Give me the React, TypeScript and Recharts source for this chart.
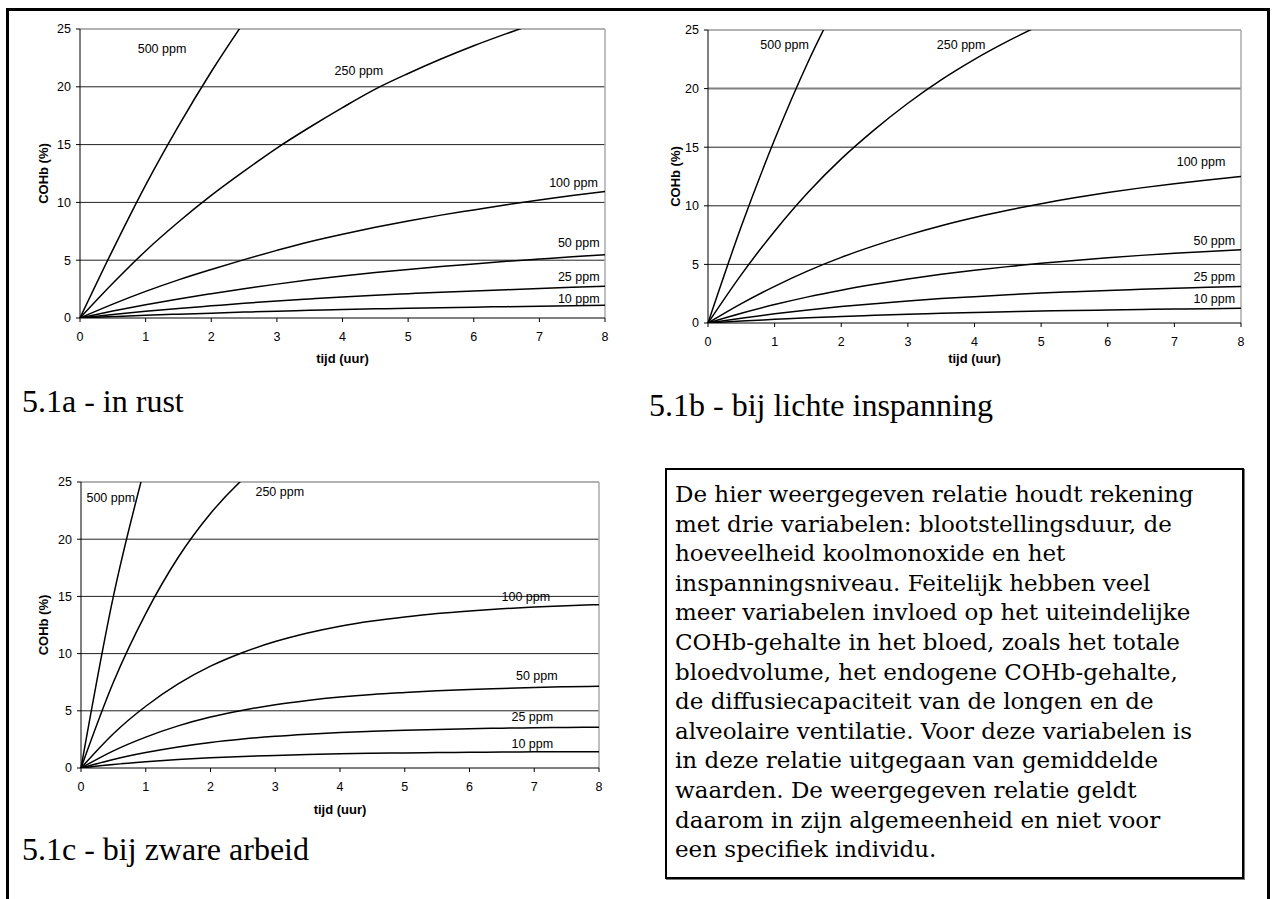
import { LineChart, Line, XAxis, YAxis, ReferenceLine, ReferenceDot, Label } from 'recharts'

// time axis (hours), one point every half hour
const TIME = [0, 0.5, 1, 1.5, 2, 2.5, 3, 3.5, 4, 4.5, 5, 5.5, 6, 6.5, 7, 7.5, 8]
const X_TICKS = [0, 1, 2, 3, 4, 5, 6, 7, 8]
const Y_TICKS = [0, 5, 10, 15, 20, 25]
const GRID_Y = [5, 10, 15, 20]

// 5.1a - in rust (COHb %)
const REST_500 = [0, 5.9, 11.5, 16.6, 21.3, 25.6, 29.6, null, null, null, null, null, null, null, null, null, null]
const REST_250 = [0, 3.0, 5.8, 8.3, 10.6, 12.7, 14.7, 16.5, 18.2, 19.8, 21.15, 22.4, 23.55, 24.6, 25.6, 26.55, 27.4]
const REST_100 = [0, 1.2, 2.3, 3.3, 4.2, 5.05, 5.85, 6.6, 7.25, 7.85, 8.4, 8.9, 9.35, 9.8, 10.2, 10.6, 10.95]
const REST_50 = [0, 0.6, 1.15, 1.65, 2.1, 2.53, 2.93, 3.3, 3.63, 3.93, 4.2, 4.45, 4.68, 4.9, 5.1, 5.3, 5.48]
const REST_25 = [0, 0.3, 0.58, 0.83, 1.05, 1.27, 1.47, 1.65, 1.82, 1.97, 2.1, 2.23, 2.34, 2.45, 2.55, 2.65, 2.74]
const REST_10 = [0, 0.12, 0.23, 0.33, 0.42, 0.51, 0.59, 0.66, 0.73, 0.79, 0.84, 0.89, 0.94, 0.98, 1.02, 1.06, 1.1]

// 5.1b - bij lichte inspanning
const LIGHT_500 = [0, 8.25, 15.65, 22.25, 28.0, null, null, null, null, null, null, null, null, null, null, null, null]
const LIGHT_250 = [0, 4.13, 7.83, 11.13, 14.0, 16.5, 18.75, 20.75, 22.5, 24.05, 25.45, null, null, null, null, null, null]
const LIGHT_100 = [0, 1.65, 3.13, 4.45, 5.6, 6.6, 7.5, 8.3, 9.0, 9.62, 10.18, 10.68, 11.13, 11.53, 11.89, 12.21, 12.5]
const LIGHT_50 = [0, 0.83, 1.57, 2.23, 2.8, 3.3, 3.75, 4.15, 4.5, 4.81, 5.09, 5.34, 5.57, 5.77, 5.95, 6.11, 6.25]
const LIGHT_25 = [0, 0.41, 0.78, 1.11, 1.4, 1.65, 1.88, 2.08, 2.25, 2.41, 2.55, 2.67, 2.78, 2.88, 2.97, 3.05, 3.12]
const LIGHT_10 = [0, 0.17, 0.31, 0.45, 0.56, 0.66, 0.75, 0.83, 0.9, 0.96, 1.02, 1.07, 1.11, 1.15, 1.19, 1.22, 1.25]

// 5.1c - bij zware arbeid
const HEAVY_500 = [0, 15.0, 26.6, null, null, null, null, null, null, null, null, null, null, null, null, null, null]
const HEAVY_250 = [0, 7.5, 13.5, 18.4, 22.25, 25.25, 27.6, null, null, null, null, null, null, null, null, null, null]
const HEAVY_100 = [0, 3.0, 5.4, 7.35, 8.9, 10.1, 11.05, 11.8, 12.4, 12.85, 13.2, 13.5, 13.73, 13.92, 14.07, 14.19, 14.28]
const HEAVY_50 = [0, 1.5, 2.7, 3.68, 4.45, 5.05, 5.53, 5.9, 6.2, 6.43, 6.6, 6.75, 6.87, 6.96, 7.04, 7.1, 7.14]
const HEAVY_25 = [0, 0.75, 1.35, 1.84, 2.23, 2.53, 2.77, 2.95, 3.1, 3.21, 3.3, 3.37, 3.43, 3.48, 3.52, 3.55, 3.57]
const HEAVY_10 = [0, 0.3, 0.54, 0.74, 0.89, 1.01, 1.1, 1.18, 1.24, 1.29, 1.32, 1.35, 1.37, 1.39, 1.41, 1.42, 1.43]

const KEYS = ['p500', 'p250', 'p100', 'p50', 'p25', 'p10']

// curve labels, in data units (x = uur, y = COHb %)
const REST_LABELS = [
  { x: 1.25, y: 23.3, text: '500 ppm' },
  { x: 4.25, y: 21.4, text: '250 ppm' },
  { x: 7.52, y: 11.7, text: '100 ppm' },
  { x: 7.6, y: 6.55, text: '50 ppm' },
  { x: 7.6, y: 3.55, text: '25 ppm' },
  { x: 7.6, y: 1.7, text: '10 ppm' },
]
const LIGHT_LABELS = [
  { x: 1.15, y: 23.8, text: '500 ppm' },
  { x: 3.8, y: 23.8, text: '250 ppm' },
  { x: 7.4, y: 13.8, text: '100 ppm' },
  { x: 7.6, y: 7.0, text: '50 ppm' },
  { x: 7.6, y: 4.0, text: '25 ppm' },
  { x: 7.6, y: 2.1, text: '10 ppm' },
]
const HEAVY_LABELS = [
  { x: 0.46, y: 23.6, text: '500 ppm' },
  { x: 3.07, y: 24.2, text: '250 ppm' },
  { x: 6.87, y: 15.0, text: '100 ppm' },
  { x: 7.04, y: 8.1, text: '50 ppm' },
  { x: 6.97, y: 4.47, text: '25 ppm' },
  { x: 6.97, y: 2.13, text: '10 ppm' },
]

const TEXT_LINES = [
  'De hier weergegeven relatie houdt rekening',
  'met drie variabelen: blootstellingsduur, de',
  'hoeveelheid koolmonoxide en het',
  'inspanningsniveau. Feitelijk hebben veel',
  'meer variabelen invloed op het uiteindelijke',
  'COHb-gehalte in het bloed, zoals het totale',
  'bloedvolume, het endogene COHb-gehalte,',
  'de diffusiecapaciteit van de longen en de',
  'alveolaire ventilatie. Voor deze variabelen is',
  'in deze relatie uitgegaan van gemiddelde',
  'waarden. De weergegeven relatie geldt',
  'daarom in zijn algemeenheid en niet voor',
  'een specifiek individu.',
]

function toRows(series: (number | null)[][]) {
  return TIME.map((t, i) => {
    const row: any = { t }
    KEYS.forEach((k, j) => {
      row[k] = series[j][i]
    })
    return row
  })
}

const restRows = toRows([REST_500, REST_250, REST_100, REST_50, REST_25, REST_10])
const lightRows = toRows([LIGHT_500, LIGHT_250, LIGHT_100, LIGHT_50, LIGHT_25, LIGHT_10])
const heavyRows = toRows([HEAVY_500, HEAVY_250, HEAVY_100, HEAVY_50, HEAVY_25, HEAVY_10])

const tickStyle = { fill: '#000', fontSize: 12.5 }
const titleStyle = { fontWeight: 'bold', fontSize: 13, fill: '#000' }

function Panel({ left, top, width, height, margin, yWidth, yTitleOffset, xTitleOffset, grayGrid, rows, labels }: any) {
  return (
    <div style={{ position: 'absolute', left, top, width, height }}>
      <LineChart width={width} height={height} data={rows} margin={margin}>
        <XAxis
          type="number"
          dataKey="t"
          domain={[0, 8]}
          ticks={X_TICKS}
          interval={0}
          height={50}
          tickSize={4}
          tickMargin={10}
          stroke="#000"
          tick={tickStyle}
        >
          <Label value="tijd (uur)" position="insideBottom" offset={xTitleOffset} style={titleStyle} />
        </XAxis>
        <YAxis
          type="number"
          domain={[0, 25]}
          ticks={Y_TICKS}
          interval={0}
          allowDataOverflow
          width={yWidth}
          tickSize={4}
          tickMargin={5}
          stroke="#000"
          tick={tickStyle}
        >
          <Label
            value="COHb (%)"
            angle={-90}
            position="insideLeft"
            offset={yTitleOffset}
            style={{ ...titleStyle, textAnchor: 'middle' }}
          />
        </YAxis>
        {GRID_Y.map((v) => (
          <ReferenceLine
            key={v}
            y={v}
            stroke={grayGrid === v ? '#808080' : '#222'}
            strokeWidth={grayGrid === v ? 2 : 1}
          />
        ))}
        <ReferenceLine y={25} stroke="#999" strokeWidth={1.5} />
        <ReferenceLine x={8} stroke="#aaa" strokeWidth={1.5} />
        {KEYS.map((k) => (
          <Line
            key={k}
            type="monotone"
            dataKey={k}
            stroke="#000"
            strokeWidth={1.5}
            dot={false}
            activeDot={false}
            isAnimationActive={false}
          />
        ))}
        {labels.map((l: any) => (
          <ReferenceDot
            key={l.text}
            x={l.x}
            y={l.y}
            r={0}
            fill="none"
            stroke="none"
            label={{ value: l.text, position: 'center', fontSize: 12.5, fill: '#000' }}
          />
        ))}
      </LineChart>
    </div>
  )
}

const captionStyle: any = {
  position: 'absolute',
  fontFamily: '"Liberation Serif", "Times New Roman", serif',
  fontSize: 32,
  lineHeight: '32px',
  whiteSpace: 'nowrap',
  color: '#000',
}

export default function App() {
  return (
    <div
      style={{
        position: 'absolute',
        left: 0,
        top: 0,
        width: 1275,
        height: 899,
        overflow: 'hidden',
        background: '#fff',
        fontFamily: '"Liberation Sans", Arial, sans-serif',
      }}
    >
      {/* page frame */}
      <div style={{ position: 'absolute', left: 6, top: 8, width: 1258, height: 920, border: '3px solid #000' }} />

      <Panel
        left={0}
        top={0}
        width={620}
        height={380}
        margin={{ top: 29, right: 15, left: 20, bottom: 12 }}
        yWidth={60}
        yTitleOffset={23}
        xTitleOffset={5}
        rows={restRows}
        labels={REST_LABELS}
      />
      <Panel
        left={630}
        top={0}
        width={626}
        height={385}
        margin={{ top: 30, right: 15, left: 20, bottom: 12 }}
        yWidth={58}
        yTitleOffset={25}
        xTitleOffset={10}
        grayGrid={20}
        rows={lightRows}
        labels={LIGHT_LABELS}
      />
      <Panel
        left={0}
        top={453}
        width={614}
        height={377}
        margin={{ top: 29, right: 15, left: 20, bottom: 12 }}
        yWidth={61}
        yTitleOffset={23}
        xTitleOffset={4}
        rows={heavyRows}
        labels={HEAVY_LABELS}
      />

      <div style={{ ...captionStyle, left: 22, top: 385 }}>5.1a - in rust</div>
      <div style={{ ...captionStyle, left: 649, top: 389 }}>5.1b - bij lichte inspanning</div>
      <div style={{ ...captionStyle, left: 22, top: 833 }}>5.1c - bij zware arbeid</div>

      <div
        style={{
          position: 'absolute',
          left: 665,
          top: 468,
          width: 567,
          height: 397,
          border: '2px solid #000',
          boxShadow: '1px 1px 0 #777',
          padding: '10px 0 0 8px',
          boxSizing: 'content-box',
          fontFamily: '"DejaVu Serif", serif',
          fontSize: 23,
          lineHeight: '29.6px',
          whiteSpace: 'nowrap',
          color: '#000',
        }}
      >
        {TEXT_LINES.map((line) => (
          <div key={line}>{line}</div>
        ))}
      </div>
    </div>
  )
}
